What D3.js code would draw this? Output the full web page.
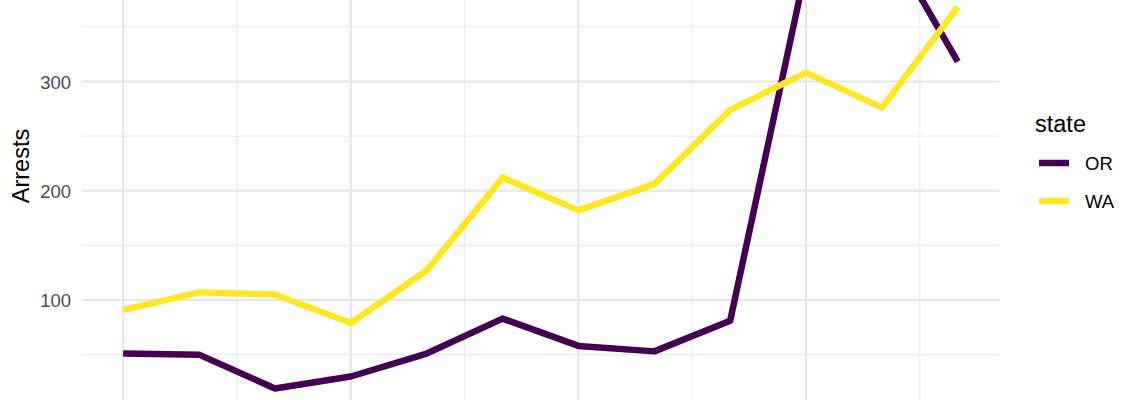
<!DOCTYPE html>
<html>
<head>
<meta charset="utf-8">
<script src="https://cdn.jsdelivr.net/npm/d3@7/dist/d3.min.js"></script>
<style>
html,body{margin:0;padding:0;background:#fff;}
svg{display:block;font-family:"Liberation Sans",Arial,Helvetica,sans-serif;}
</style>
</head>
<body>
<svg id="chart" width="1140" height="400"></svg>
<script>
// ---- data ----
const years = [2007, 2008, 2009, 2010, 2011, 2012, 2013, 2014, 2015, 2016, 2017, 2018];
const states = ["OR", "WA"];
const orArrests = [51, 50, 19, 30, 51, 83, 58, 53, 81, 404, 438, 318];
const waArrests = [91, 107, 105, 79, 127, 212, 182, 206, 274, 308, 276, 368];
const yMajorTicks = [0, 100, 200, 300, 400];
const yLabelTicks = [100, 200, 300];
const yMinorTicks = [50, 150, 250, 350];
const xMajorTicks = [2007, 2010, 2013, 2016];
const xMinorTicks = [2008.5, 2011.5, 2014.5, 2017.5];
const colors = {OR: "#440154", WA: "#FDE725"};
const yTitle = "Arrests";
const legendTitle = "state";

const series = [
  {key: "OR", values: orArrests},
  {key: "WA", values: waArrests}
];

// ---- layout ----
const svg = d3.select("#chart");
const panel = {left: 81.5, right: 999.5, top: -60, bottom: 440};

const x = d3.scaleLinear().domain([2006.45, 2018.55]).range([panel.left, panel.right]);
const y = d3.scaleLinear().domain([0, 400]).range([409.3, -27.9]);

const g = svg.append("g");

// minor grid
g.selectAll("line.hminor").data(yMinorTicks).join("line")
  .attr("x1", panel.left).attr("x2", panel.right)
  .attr("y1", d => y(d)).attr("y2", d => y(d))
  .attr("stroke", "#ebebeb").attr("stroke-width", 1.2);
g.selectAll("line.vminor").data(xMinorTicks).join("line")
  .attr("x1", d => x(d)).attr("x2", d => x(d))
  .attr("y1", panel.top).attr("y2", panel.bottom)
  .attr("stroke", "#ebebeb").attr("stroke-width", 1.2);
// major grid
g.selectAll("line.hmajor").data(yMajorTicks).join("line")
  .attr("x1", panel.left).attr("x2", panel.right)
  .attr("y1", d => y(d)).attr("y2", d => y(d))
  .attr("stroke", "#e6e6e6").attr("stroke-width", 2);
g.selectAll("line.vmajor").data(xMajorTicks).join("line")
  .attr("x1", d => x(d)).attr("x2", d => x(d))
  .attr("y1", panel.top).attr("y2", panel.bottom)
  .attr("stroke", "#e6e6e6").attr("stroke-width", 2);

// y axis labels
const yAxis = d3.axisLeft(y).tickValues(yLabelTicks).tickSize(0).tickPadding(0);
const ya = svg.append("g").attr("transform", "translate(71,0)").call(yAxis);
ya.select(".domain").remove();
ya.selectAll("text").attr("font-size", 18.5).attr("fill", "#4d4d4d")
  .attr("font-family", "Liberation Sans, Arial, sans-serif").attr("dy", "0.36em");

// y title
svg.append("text")
  .attr("transform", "translate(29,166) rotate(-90)")
  .attr("text-anchor", "middle")
  .attr("font-size", 23.5).attr("fill", "#000")
  .text(yTitle);

// lines
const line = d3.line().x((d, i) => x(years[i])).y(d => y(d));
svg.append("g").selectAll("path").data(series).join("path")
  .attr("d", d => line(d.values))
  .attr("fill", "none")
  .attr("stroke", d => colors[d.key])
  .attr("stroke-width", 6.5)
  .attr("stroke-linejoin", "round")
  .attr("stroke-linecap", "butt");

// legend
const lg = svg.append("g");
lg.append("text").attr("x", 1035).attr("y", 132)
  .attr("font-size", 23.5).attr("fill", "#000").text(legendTitle);
const ky = d3.scalePoint().domain(states).range([163, 201]);
const items = lg.selectAll("g.item").data(states).join("g")
  .attr("transform", d => `translate(0,${ky(d)})`);
items.append("line").attr("x1", 1039).attr("x2", 1069)
  .attr("stroke", d => colors[d]).attr("stroke-width", 6.5);
items.append("text").attr("x", 1085).attr("dy", "0.36em")
  .attr("font-size", 18.5).attr("fill", "#000").text(d => d);
</script>
</body>
</html>
